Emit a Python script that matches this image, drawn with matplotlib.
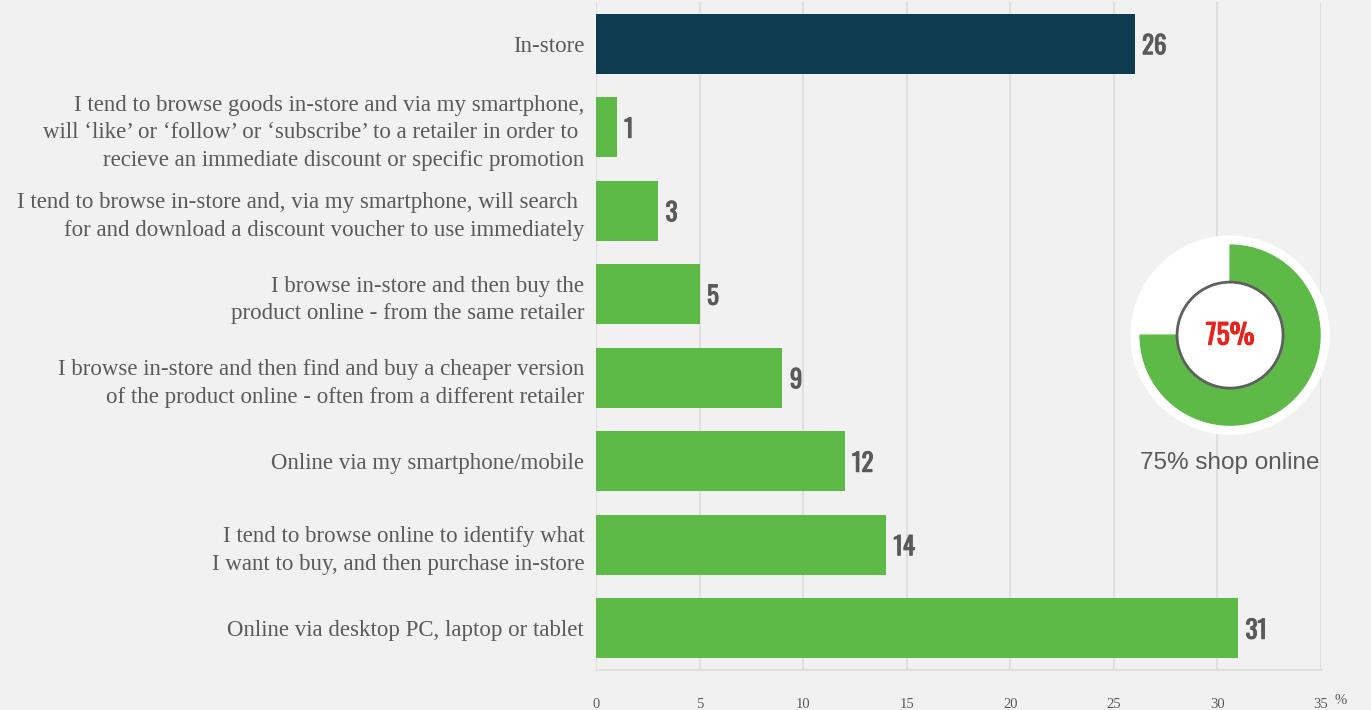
import matplotlib.pyplot as plt
from matplotlib import font_manager
from matplotlib import patheffects
from matplotlib.patches import Circle, Wedge

# survey answers, top to bottom
categories = [
    "In-store",
    "I tend to browse goods in-store and via my smartphone,\n"
    "will \u2018like\u2019 or \u2018follow\u2019 or \u2018subscribe\u2019 to a retailer in order to \n"
    "recieve an immediate discount or specific promotion",
    "I tend to browse in-store and, via my smartphone, will search \n"
    "for and download a discount voucher to use immediately",
    "I browse in-store and then buy the\nproduct online - from the same retailer",
    "I browse in-store and then find and buy a cheaper version\n"
    "of the product online - often from a different retailer",
    "Online via my smartphone/mobile",
    "I tend to browse online to identify what\nI want to buy, and then purchase in-store",
    "Online via desktop PC, laptop or tablet",
]
values = [26, 1, 3, 5, 9, 12, 14, 31]
x_ticks = [0, 5, 10, 15, 20, 25, 30, 35]
online_share = 75

BG = "#f0f1f0"
GREEN = "#5dba47"
NAVY = "#0f3b50"
GRID = "#dedfde"
TEXT = "#5a5a5a"
RED = "#e8231f"

# narrow bold face for the numbers, if one is around
names = {f.name for f in font_manager.fontManager.ttflist}
narrow = None
for cand in ["Oswald", "Roboto Condensed", "Liberation Sans Narrow",
             "DejaVu Sans Condensed", "Open Sans Condensed"]:
    if cand in names:
        narrow = dict(family=[cand, "DejaVu Sans"])
        break
if narrow is None:
    narrow = dict(family=["DejaVu Sans"], fontstretch="condensed")

serif = ["Liberation Serif", "DejaVu Serif"]


def heavy(color, w=1.0):
    # thicken the narrow face a little
    return [patheffects.withStroke(linewidth=w, foreground=color)]


fig = plt.figure(figsize=(13.71, 7.10), dpi=100, facecolor=BG)
ax = fig.add_axes([0.4347, 0.0563, 0.5288, 0.941], facecolor=BG)

colors = [NAVY] + [GREEN] * (len(values) - 1)
ypos = list(range(len(values)))
ax.barh(ypos, values, height=0.72, color=colors, zorder=3)

for y, v in zip(ypos, values):
    ax.text(v + 0.36, y + 0.03, str(v), va="center", ha="left", fontsize=18,
            fontweight="bold", color=TEXT, zorder=4,
            path_effects=heavy(TEXT, 0.7), **narrow)

ax.set_xlim(0, 35)
ax.set_ylim(len(values) - 0.5, -0.5)
ax.set_yticks(ypos)
ax.set_yticklabels(categories, fontsize=16.5, color=TEXT, family=serif,
                   linespacing=1.4, ma="right")
ax.set_xticks(x_ticks)
ax.set_xticklabels([str(t) for t in x_ticks], fontsize=10.5, color=TEXT,
                   family=serif)
ax.tick_params(axis="x", length=0, pad=20)
ax.tick_params(axis="y", length=0, pad=8.5)
ax.xaxis.grid(True, color=GRID, lw=1.5, zorder=0)
for side in ["top", "left", "right"]:
    ax.spines[side].set_visible(False)
ax.spines["bottom"].set_color(GRID)
ax.spines["bottom"].set_linewidth(1.5)
ax.text(1.018, -0.045, "%", transform=ax.transAxes, fontsize=10.5,
        color=TEXT, family=serif, va="center", ha="left")

# donut showing share of online shoppers
dax = fig.add_axes([0.8972 - 0.0766, 0.528 - 0.1479, 0.1532, 0.2958])
dax.set_xlim(-1.05, 1.05)
dax.set_ylim(-1.05, 1.05)
dax.set_aspect("equal")
dax.axis("off")
dax.add_patch(Circle((0, 0), 0.99, color="white", zorder=1))
sweep = 360 * online_share / 100
dax.add_patch(Wedge((0, 0), 0.9, 90 - sweep, 90, width=0.37, color=GREEN,
                    zorder=2))
dax.add_patch(Circle((0, 0), 0.53, facecolor="white", edgecolor="#5f5f5f",
                     lw=2, zorder=3))
dax.text(0, -0.01, f"{online_share}%", ha="center", va="center", fontsize=20,
         fontweight="bold", color=RED, zorder=4,
         path_effects=heavy(RED, 0.8), **narrow)

fig.text(0.8972, (710 - 463) / 710, f"{online_share}% shop online",
         ha="center", va="center", fontsize=17.5, color=TEXT,
         family=["Liberation Sans", "DejaVu Sans"])

fig.savefig("out.png", dpi=100, facecolor=BG)
